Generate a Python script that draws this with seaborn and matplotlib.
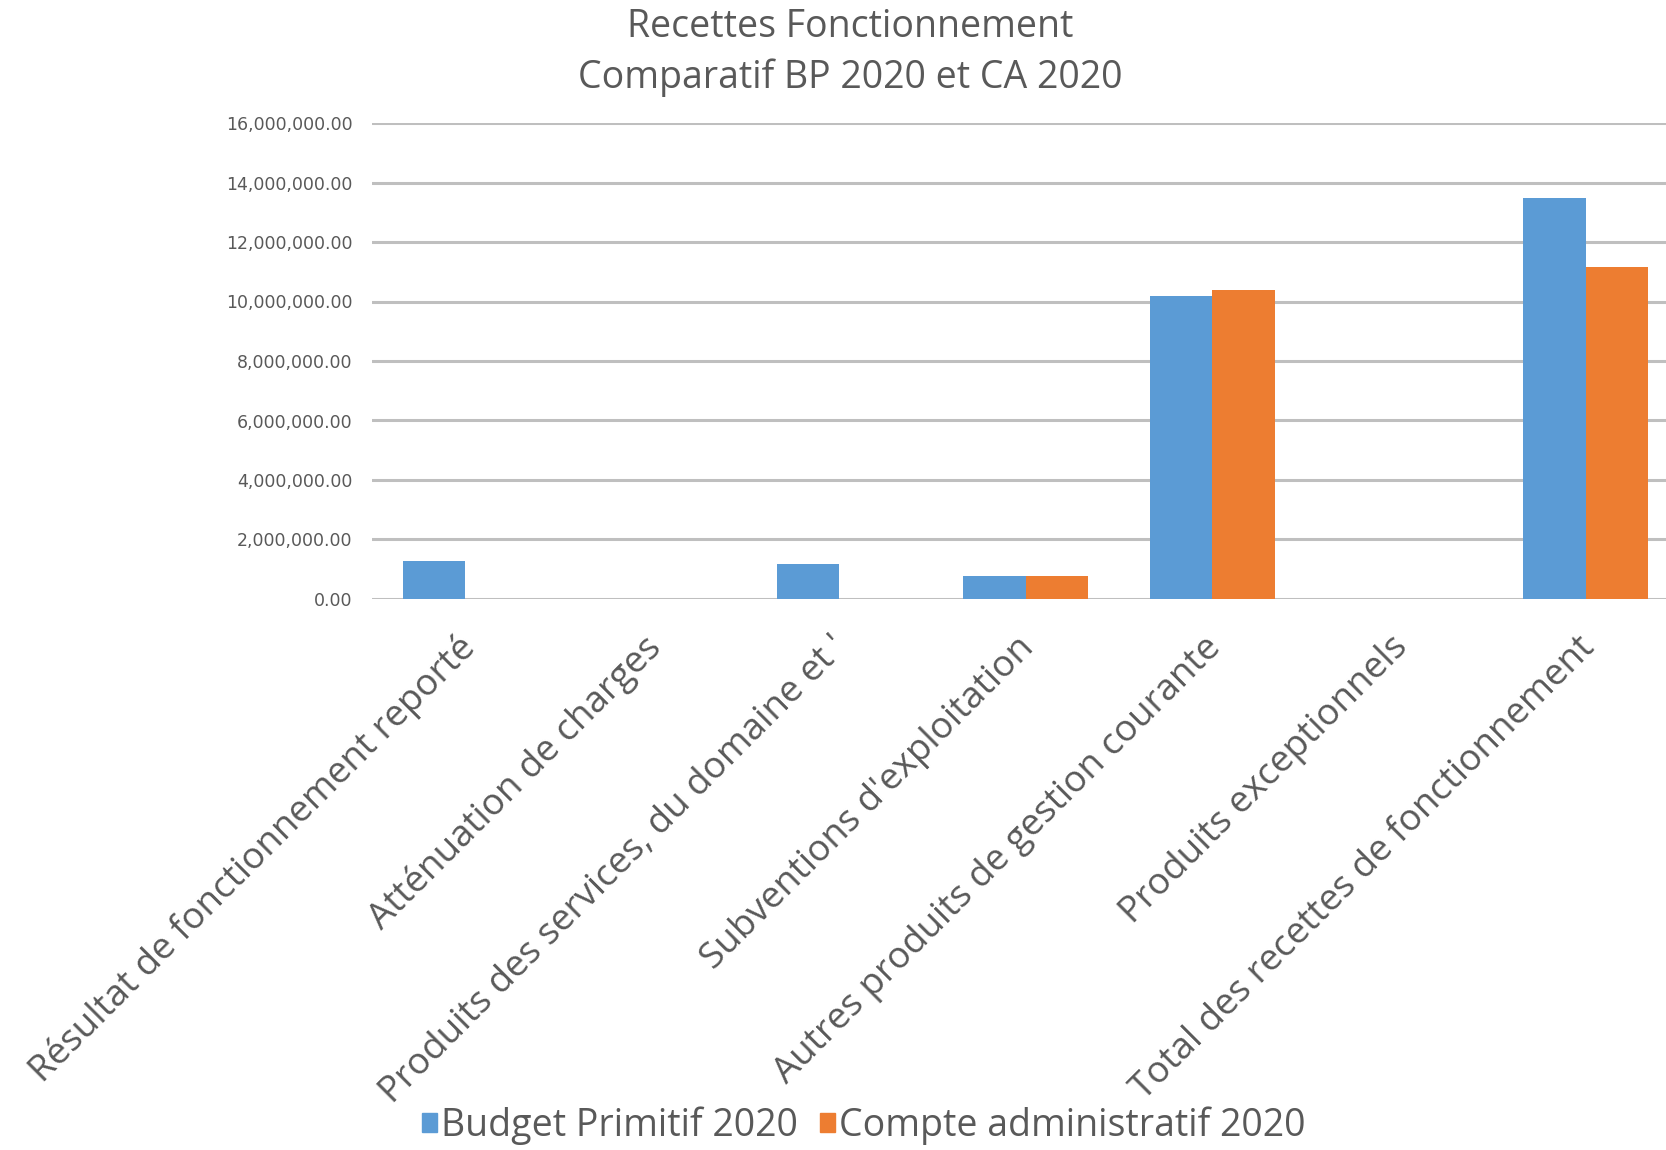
import pandas as pd
import numpy as np
import matplotlib.pyplot as plt
import matplotlib.transforms as mtransforms
import seaborn as sns

categories = ["Résultat de fonctionnement reporté",
              "Atténuation de charges",
              "Produits des services, du domaine et '",
              "Subventions d'exploitation",
              "Autres produits de gestion courante",
              "Produits exceptionnels",
              "Total des recettes de fonctionnement"]
budget_primitif = [1280000, 0, 1160000, 760000, 10190000, 0, 13470000]
compte_admin = [0, 0, 0, 760000, 10370000, 0, 11160000]
series = ["Budget Primitif 2020", "Compte administratif 2020"]
yticks = np.arange(0, 16000001, 2000000)

df = pd.DataFrame({
    'categorie': categories * 2,
    'serie': [series[0]] * len(categories) + [series[1]] * len(categories),
    'montant': budget_primitif + compte_admin,
})

sns.set_style('white')
plt.rcParams['font.family'] = ['Open Sans', 'DejaVu Sans']
grey = '#595959'

fig = plt.figure(figsize=(16.66, 11.5), dpi=100)
ax = fig.add_axes([372 / 1666, 1 - 599 / 1150, 1 - 372 / 1666, (599 - 123) / 1150])

sns.barplot(data=df, x='categorie', y='montant', hue='serie', order=categories,
            hue_order=series, palette=['#5B9BD5', '#ED7D31'], width=0.667, gap=0,
            saturation=1, linewidth=0, ax=ax, legend=False, zorder=3)

# the original chart is cut off on the right
ax.set_xlim(-0.5, 6.43)
ax.set_ylim(0, 16000000)
ax.set_yticks(yticks)
ax.set_yticklabels([f'{v:,.2f}' for v in yticks], fontsize=12.5, color=grey,
                   family='DejaVu Sans')
ax.yaxis.grid(True, color='#BFBFBF', linewidth=2.2, zorder=0)
ax.set_axisbelow(True)
for s in ax.spines.values():
    s.set_visible(False)
ax.tick_params(axis='both', length=0)
ax.tick_params(axis='y', pad=14)
ax.set_xlabel('')
ax.set_ylabel('')
ax.set_xticks(range(len(categories)))
ax.set_xticklabels(categories, rotation=45, ha='right', rotation_mode='anchor',
                   fontsize=26.5, color=grey)
ax.tick_params(axis='x', pad=22)
shift = mtransforms.ScaledTranslation(-0.09, 0, fig.dpi_scale_trans)
for lbl in ax.get_xticklabels():
    lbl.set_transform(lbl.get_transform() + shift)

fig.text(850 / 1666, 1 - 27 / 1150, 'Recettes Fonctionnement', ha='center', va='center',
         fontsize=27, color=grey)
fig.text(850 / 1666, 1 - 78 / 1150, 'Comparatif BP 2020 et CA 2020', ha='center', va='center',
         fontsize=27, color=grey)

handles = [plt.Rectangle((0, 0), 1, 1, color=c) for c in ['#5B9BD5', '#ED7D31']]
leg = fig.legend(handles, series, loc='center', bbox_to_anchor=(864 / 1666, 1 - 1126 / 1150),
                 ncol=2, frameon=False, fontsize=27, handlelength=0.4, handleheight=0.4,
                 handletextpad=0.1, columnspacing=0.6, borderpad=0)
for t in leg.get_texts():
    t.set_color(grey)

fig.savefig('out.png', dpi=100)
